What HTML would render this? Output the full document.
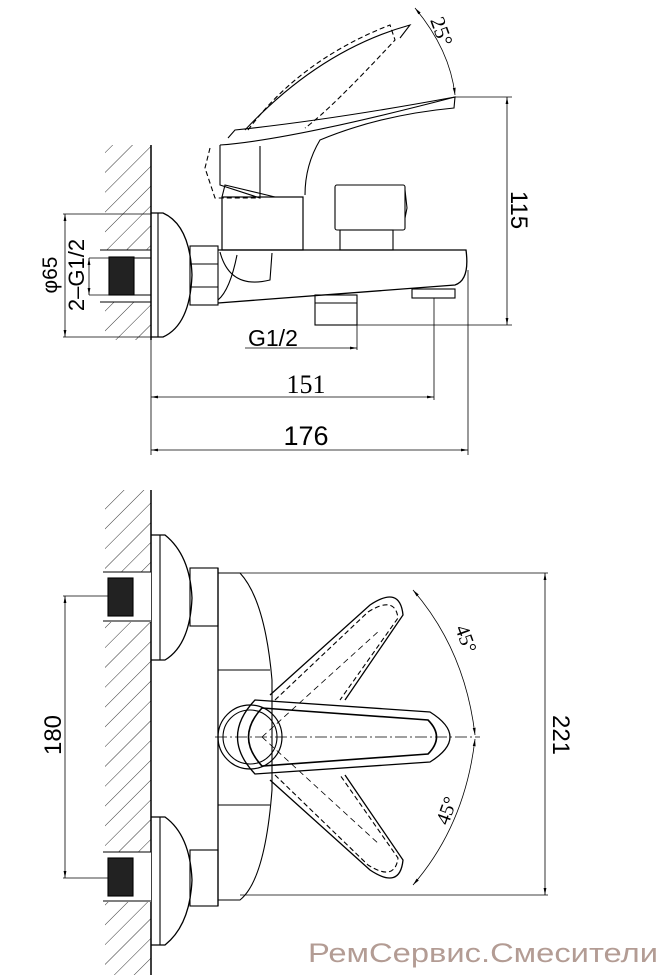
<!DOCTYPE html>
<html><head><meta charset="utf-8"><style>
html,body{margin:0;padding:0;background:#fff;}
svg{display:block;}
text{font-family:"Liberation Sans",sans-serif;fill:#000;}
.s{font-family:"Liberation Serif",serif;}
</style></head><body>
<svg width="666" height="975" viewBox="0 0 666 975" xmlns="http://www.w3.org/2000/svg">
<defs>
<pattern id="h" patternUnits="userSpaceOnUse" width="14" height="14" patternTransform="rotate(45)">
<line x1="0" y1="0" x2="0" y2="14" stroke="#000" stroke-width="0.8"/>
</pattern>
<marker id="a" viewBox="0 0 10 10" refX="10" refY="5" markerWidth="9" markerHeight="9" orient="auto-start-reverse"><path d="M0,3 L10,5 L0,7 z" fill="#000"/></marker>
</defs>
<g fill="none" stroke="#000" stroke-width="1.1">
<!-- TOP VIEW -->
<rect x="105" y="145" width="46" height="105" fill="url(#h)" stroke="none"/>
<rect x="105" y="302" width="46" height="38" fill="url(#h)" stroke="none"/>
<line x1="151" y1="145" x2="151" y2="340" stroke-width="1.5"/>
<line x1="100" y1="250" x2="151" y2="250"/><line x1="100" y1="302" x2="151" y2="302"/>
<rect x="109" y="257" width="25" height="38" fill="#222" stroke="#000"/>
<line x1="134" y1="258" x2="151" y2="258"/><line x1="134" y1="295" x2="151" y2="295"/>
<path d="M151,213 H163 Q190,225 192,275 Q190,325 163,337 H151" stroke-width="1.3"/>
<line x1="158" y1="213" x2="158" y2="337"/>
<rect x="190" y="246" width="28" height="59"/>
<line x1="190" y1="264" x2="218" y2="264"/><line x1="190" y1="287" x2="218" y2="287"/>
<path d="M218,250 H466 Q470,280 455,285 L218,303" stroke-width="1.3"/>
<path d="M220,252 Q230,290 270,280 L272,253" />
<path d="M237,255 Q230,290 218,300"/>
<rect x="222" y="197" width="81" height="53" stroke-width="1.2"/>
<path d="M222,197 L225,185 L275,197 L303,197"/>
<path d="M220,145 Q290,140 455,97 L454,108 Q380,115 320,140 Q305,165 305,195 M220,145 L220,185 L260,198 L260,146"/>
<path d="M228,138 L235,130 Q330,120 455,97"/>
<path d="M210,148 L205,168 L215,198 L260,198" stroke-dasharray="5,3"/>
<path d="M248,130 Q300,60 390,25 L395,40 Q330,110 305,128" stroke-dasharray="5,3"/>
<path d="M245,130 Q320,50 410,25 L400,38"/>
<rect x="335" y="185" width="70" height="45" rx="2"/>
<path d="M405,190 L407,208 L405,218"/>
<rect x="340" y="230" width="53" height="20"/>
<rect x="315" y="295" width="42" height="30"/>
<line x1="315" y1="303" x2="357" y2="303"/>
<rect x="412" y="289" width="43" height="9"/>
<!-- dims top -->
<line x1="455" y1="97" x2="512" y2="97" stroke-width="0.8"/>
<line x1="357" y1="325" x2="512" y2="325" stroke-width="0.8"/>
<line x1="507" y1="97" x2="507" y2="325" stroke-width="0.8" marker-start="url(#a)" marker-end="url(#a)"/>
<path d="M415,8 Q450,50 455,95" stroke-width="0.8" marker-start="url(#a)" marker-end="url(#a)"/>
<line x1="245" y1="348" x2="357" y2="348" stroke-width="0.8" marker-end="url(#a)"/>
<line x1="357" y1="325" x2="357" y2="350" stroke-width="0.8"/>
<line x1="151" y1="340" x2="151" y2="455" stroke-width="0.8"/>
<line x1="434" y1="298" x2="434" y2="400" stroke-width="0.8"/>
<line x1="468" y1="270" x2="468" y2="455" stroke-width="0.8"/>
<line x1="151" y1="397" x2="434" y2="397" stroke-width="0.8" marker-start="url(#a)" marker-end="url(#a)"/>
<line x1="151" y1="450" x2="468" y2="450" stroke-width="0.8" marker-start="url(#a)" marker-end="url(#a)"/>
<line x1="63" y1="214" x2="151" y2="214" stroke-width="0.8"/>
<line x1="63" y1="337" x2="151" y2="337" stroke-width="0.8"/>
<line x1="65" y1="214" x2="65" y2="337" stroke-width="0.8" marker-start="url(#a)" marker-end="url(#a)"/>
<line x1="89" y1="258" x2="109" y2="258" stroke-width="0.8"/>
<line x1="89" y1="295" x2="109" y2="295" stroke-width="0.8"/>
<line x1="89" y1="258" x2="89" y2="295" stroke-width="0.8" marker-start="url(#a)" marker-end="url(#a)"/>

<!-- BOTTOM VIEW -->
<rect x="105" y="490" width="46" height="485" fill="url(#h)" stroke="none"/>
<line x1="151" y1="490" x2="151" y2="975" stroke-width="1.5"/>
<rect x="103" y="572" width="48" height="50" fill="#fff" stroke="none"/>
<line x1="103" y1="572" x2="151" y2="572"/><line x1="103" y1="621" x2="151" y2="621"/>
<rect x="108" y="578" width="25" height="38" fill="#222"/>
<rect x="103" y="852" width="48" height="50" fill="#fff" stroke="none"/>
<line x1="103" y1="852" x2="151" y2="852"/><line x1="103" y1="901" x2="151" y2="901"/>
<rect x="108" y="858" width="25" height="38" fill="#222"/>
<path d="M151,535 H165 Q190,555 192,598 Q190,645 165,660 H151" stroke-width="1.3"/>
<line x1="160" y1="535" x2="160" y2="660"/>
<path d="M151,817 H165 Q190,835 192,880 Q190,925 165,945 H151" stroke-width="1.3"/>
<line x1="160" y1="817" x2="160" y2="945"/>
<rect x="190" y="568" width="28" height="58"/>
<rect x="190" y="850" width="28" height="56"/>
<line x1="218" y1="568" x2="218" y2="906" stroke-width="1.3"/>
<path d="M218,573 H240 Q265,600 272,680 L272,790 Q265,880 240,900 H218"/>
<line x1="218" y1="670" x2="270" y2="670"/><line x1="218" y1="805" x2="270" y2="805"/>
<circle cx="250" cy="737" r="32" stroke-width="1.2"/>
<circle cx="250" cy="737" r="27"/>
<path d="M255,700 L430,712 Q470,737 430,762 L255,774 Q220,737 255,700 Z" stroke-width="1.3"/>
<path d="M262,708 L428,720 Q445,737 428,754 L262,766 Q235,737 262,708 Z" stroke-width="1.6"/>
<path d="M270,695 L370,605 Q400,585 403,615 L345,700" stroke-width="1.3"/>
<path d="M270,780 L370,870 Q400,890 403,860 L345,775" stroke-width="1.3"/>
<path d="M275,700 L368,612 Q395,595 398,618 L340,700" stroke-dasharray="5,3"/>
<path d="M275,775 L368,865 Q395,882 398,858 L340,775" stroke-dasharray="5,3"/>
<line x1="262" y1="737" x2="380" y2="630" stroke-dasharray="6,4" stroke-width="0.8"/>
<line x1="262" y1="737" x2="380" y2="845" stroke-dasharray="6,4" stroke-width="0.8"/>
<line x1="215" y1="737" x2="480" y2="737" stroke-dasharray="12,3,2,3" stroke-width="0.8"/>
<path d="M413,590 Q465,650 475,735" stroke-width="0.8" marker-start="url(#a)" marker-end="url(#a)"/>
<path d="M475,739 Q465,825 413,885" stroke-width="0.8" marker-start="url(#a)" marker-end="url(#a)"/>
<line x1="240" y1="573" x2="548" y2="573" stroke-width="0.8"/>
<line x1="240" y1="895" x2="548" y2="895" stroke-width="0.8"/>
<line x1="545" y1="573" x2="545" y2="895" stroke-width="0.8" marker-start="url(#a)" marker-end="url(#a)"/>
<line x1="63" y1="596" x2="108" y2="596" stroke-width="0.8"/>
<line x1="63" y1="878" x2="108" y2="878" stroke-width="0.8"/>
<line x1="65" y1="596" x2="65" y2="878" stroke-width="0.8" marker-start="url(#a)" marker-end="url(#a)"/>
</g>
<!-- text -->
<text x="306" y="393" font-size="26" text-anchor="middle" class="s">151</text>
<text x="306" y="445" font-size="27" text-anchor="middle">176</text>
<text x="248" y="346" font-size="23">G1/2</text>
<text transform="translate(511,210) rotate(90)" font-size="24" text-anchor="middle">115</text>
<text transform="translate(430,20) rotate(70)" font-size="21" class="s">25°</text>
<text transform="translate(57,275) rotate(-90)" font-size="21" text-anchor="middle">φ65</text>
<text transform="translate(84,275) rotate(-90)" font-size="22" text-anchor="middle">2–G1/2</text>
<text transform="translate(553,735) rotate(90)" font-size="24" text-anchor="middle">221</text>
<text transform="translate(61,735) rotate(-90)" font-size="24" text-anchor="middle">180</text>
<text transform="translate(455,628) rotate(70)" font-size="20" class="s">45°</text>
<text transform="translate(448,826) rotate(-70)" font-size="20" class="s">45°</text>
<text x="308" y="962" font-size="27" textLength="350" lengthAdjust="spacingAndGlyphs" style="fill:#b39c94">РемСервис.Смесители</text>
</svg>
</body></html>
